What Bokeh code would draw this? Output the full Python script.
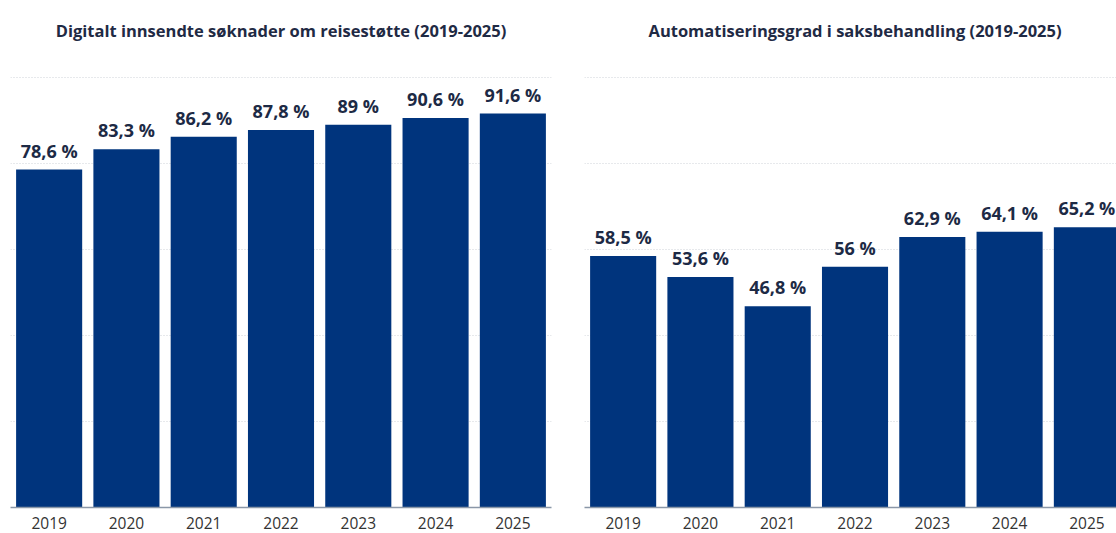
from bokeh.plotting import figure
from bokeh.layouts import row
from bokeh.models import ColumnDataSource, Range1d, FixedTicker, Label
from bokeh.core.properties import value
from bokeh.embed import file_html
from bokeh.resources import INLINE

years = ["2019", "2020", "2021", "2022", "2023", "2024", "2025"]
digital = [78.6, 83.3, 86.2, 87.8, 89.0, 90.6, 91.6]
automation = [58.5, 53.6, 46.8, 56.0, 62.9, 64.1, 65.2]
title_left = "Digitalt innsendte søknader om reisestøtte (2019-2025)"
title_right = "Automatiseringsgrad i saksbehandling (2019-2025)"

FONT = "Open Sans"
BAR = "#00347D"
LABEL = "#1d2a45"

FIG_H = 533
BOTTOM = 26
FRAME_H = FIG_H - BOTTOM
PX_PER_UNIT = (FRAME_H - 77) / 100.0   # value 100 sits 77 px below the top
Y_END = FRAME_H / PX_PER_UNIT
TITLE_Y = (FRAME_H - 30) / PX_PER_UNIT  # title baseline 30 px below the top


def fmt(v):
    return f"{v:g}".replace(".", ",") + " %"


def panel(vals, title, width, mb_left, mb_right, x_end):
    src = ColumnDataSource(dict(x=list(range(len(years))), v=vals,
                                lbl=[fmt(v) for v in vals]))
    p = figure(width=width, height=FIG_H, output_backend="svg", toolbar_location=None,
               x_range=Range1d(-0.5, x_end), y_range=Range1d(0, Y_END),
               y_axis_location=None, min_border_left=mb_left,
               min_border_right=mb_right, min_border_top=0, min_border_bottom=BOTTOM)
    p.outline_line_color = None
    p.background_fill_color = "white"
    p.border_fill_color = "white"
    p.xgrid.visible = False
    p.ygrid.ticker = FixedTicker(ticks=[20, 40, 60, 80, 100])
    p.ygrid.grid_line_color = "#cfd3d8"
    p.ygrid.grid_line_dash = "1 2"
    p.ygrid.grid_line_width = 1
    p.vbar(x="x", top="v", width=0.855, source=src, fill_color=BAR, line_color=None)
    p.text(x="x", y="v", text="lbl", source=src, text_align="center",
           text_baseline="bottom", y_offset=-7, text_font=value(FONT),
           text_font_style="bold", text_font_size="18px", text_color=LABEL)
    # chart title, centred over the categories
    p.add_layout(Label(x=(len(years) - 1) / 2, y=TITLE_Y, text=title,
                       text_align="center", text_baseline="alphabetic",
                       text_font=FONT, text_font_size="16.5px",
                       text_font_style="bold", text_color="#1f2a44"))
    ax = p.xaxis[0]
    ax.ticker = FixedTicker(ticks=list(range(len(years))))
    ax.major_label_overrides = {i: y for i, y in enumerate(years)}
    ax.major_tick_line_color = None
    ax.minor_tick_line_color = None
    ax.axis_line_color = "#8a97a8"
    ax.axis_line_width = 1.5
    ax.major_label_text_font = FONT
    ax.major_label_text_font_size = "15.5px"
    ax.major_label_text_color = "#333333"
    ax.major_label_standoff = 3
    return p


p1 = panel(digital, title_left, 566, 10, 15, 6.5)
p2 = panel(automation, title_right, 550, 18, 0, -0.5 + 532 / 77.29)

layout = row(p1, p2)
open("out.html", "w").write(file_html(layout, INLINE))
